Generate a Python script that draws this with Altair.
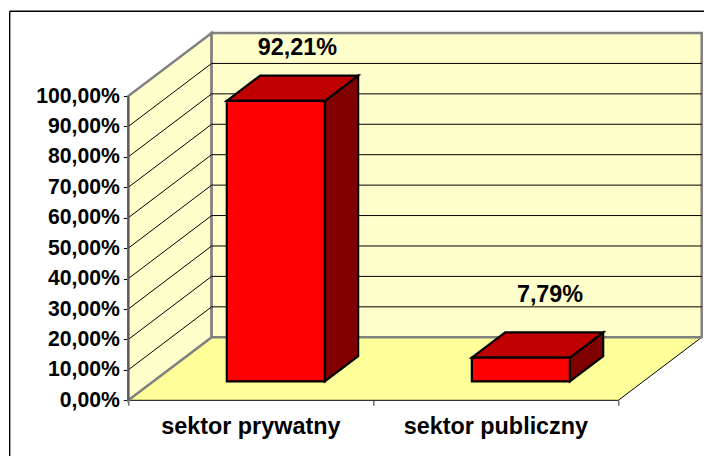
import altair as alt
import pandas as pd

categories = ["sektor prywatny", "sektor publiczny"]
values = [92.21, 7.79]
value_labels = ["92,21%", "7,79%"]
ticks = [0, 10, 20, 30, 40, 50, 60, 70, 80, 90, 100]
tick_labels = ["0,00%", "10,00%", "20,00%", "30,00%", "40,00%", "50,00%",
               "60,00%", "70,00%", "80,00%", "90,00%", "100,00%"]

# oblique projection: one unit of depth moves this far in axis units
DX = 0.34
DY = 20.72
D0, D1 = 0.30, 0.70   # bar extent in depth
W0, W1 = 0.30, 0.70   # bar extent inside its category slot
N = len(categories)


def px(c, d):
    return c + d * DX


def py(v, d):
    return v + d * DY


xs = alt.Scale(domain=[0, N + DX], nice=False, zero=False)
ys = alt.Scale(domain=[0, 100 + DY], nice=False, zero=False)
label_expr = "{" + ",".join(f"{t}:'{s}'" for t, s in zip(ticks, tick_labels)) + "}[datum.value]"
xaxis = alt.Axis(values=list(range(N + 1)), labels=False, domain=False, grid=False,
                 tickColor="#6E6E6E", tickSize=5, tickWidth=1.5, title=None)
yaxis = alt.Axis(values=ticks, domain=False, grid=False, tickColor="#000000", tickSize=5,
                 tickWidth=1, labelPadding=4, labelExpr=label_expr, title=None,
                 labelFont="Liberation Sans", labelFontWeight="bold", labelFontSize=21.2,
                 labelColor="#000000")
X = lambda f="x": alt.X(f, type="quantitative", scale=xs, axis=xaxis)
Y = lambda f="y": alt.Y(f, type="quantitative", scale=ys, axis=yaxis)

WALL = "#FFFFCC"
FLOOR = "#FFFF99"
EDGE = "#808080"

floor = alt.Chart(pd.DataFrame({
    "y": [0, DY], "x": [0, DX], "x2": [N, N + DX]
})).mark_area(orient="horizontal", fill=FLOOR, stroke="#000000", strokeWidth=1).encode(
    y=Y(), x=X(), x2="x2")

left = alt.Chart(pd.DataFrame({
    "x": [0, DX], "y": [0, DY], "y2": [100, 100 + DY]
})).mark_area(orient="vertical", fill=WALL, stroke=EDGE, strokeWidth=2.5).encode(
    x=X(), y=Y(), y2="y2")

back = alt.Chart(pd.DataFrame({
    "x": [DX, N + DX], "y": [DY, DY], "y2": [100 + DY, 100 + DY]
})).mark_area(orient="vertical", fill=WALL, stroke=EDGE, strokeWidth=2.5).encode(
    x=X(), y=Y(), y2="y2")

inner = [t for t in ticks if 0 < t < 100]
grid_df = pd.DataFrame(
    [{"x": 0, "x2": DX, "y": t, "y2": t + DY} for t in inner]
    + [{"x": DX, "x2": N + DX, "y": t + DY, "y2": t + DY} for t in inner])
grid = alt.Chart(grid_df).mark_rule(color="#000000", strokeWidth=1).encode(
    x=X(), x2="x2", y=Y(), y2="y2")

front_axis = alt.Chart(pd.DataFrame({"x": [0], "y": [0], "y2": [100]})).mark_rule(
    color="#5A5A5A", strokeWidth=2).encode(x=X(), y=Y(), y2="y2")

front_rows, top_rows, side_rows = [], [], []
for i, v in enumerate(values):
    front_rows.append({"x": px(i + W0, D0), "x2": px(i + W1, D0),
                       "y": py(0, D0), "y2": py(v, D0)})
    for d in (D0, D1):
        top_rows.append({"k": i, "y": py(v, d), "x": px(i + W0, d), "x2": px(i + W1, d)})
        side_rows.append({"k": i, "x": px(i + W1, d), "y": py(0, d), "y2": py(v, d)})

STROKE = dict(stroke="#000000", strokeWidth=2.2, strokeJoin="miter")
side = alt.Chart(pd.DataFrame(side_rows)).mark_area(
    orient="vertical", fill="#800000", **STROKE).encode(
    x=X(), y=Y(), y2="y2", detail="k:N")
top = alt.Chart(pd.DataFrame(top_rows)).mark_area(
    orient="horizontal", fill="#C00000", **STROKE).encode(
    y=Y(), x=X(), x2="x2", detail="k:N")
front = alt.Chart(pd.DataFrame(front_rows)).mark_rect(
    fill="#FF0000", **STROKE).encode(x=X(), x2="x2", y=Y(), y2="y2")

TEXT = dict(font="Liberation Sans", fontWeight="bold", color="#000000", baseline="middle")

cat_text = alt.Chart(pd.DataFrame({
    "x": [i + 0.5 for i in range(N)], "y": [0] * N, "t": categories
})).mark_text(fontSize=23.4, dy=27, **TEXT).encode(x=X(), y=Y(), text="t:N")

nudges = [(0, -28), (0, -37)]
label_layers = []
for i, (v, s) in enumerate(zip(values, value_labels)):
    dx, dy = nudges[i]
    label_layers.append(
        alt.Chart(pd.DataFrame({"x": [px(i + 0.5, 0.56 if i == 0 else 0.65)],
                                "y": [py(v, D1)], "t": [s]}))
        .mark_text(fontSize=23.4, dx=dx, dy=dy, **TEXT)
        .encode(x=X(), y=Y(), text="t:N"))

frame_top = alt.Chart(pd.DataFrame({"a": [0]})).mark_rule(color="#000000", strokeWidth=1.4).encode(
    x=alt.value(-118.6), x2=alt.value(584), y=alt.value(-21.7))
frame_left = alt.Chart(pd.DataFrame({"a": [0]})).mark_rule(color="#000000", strokeWidth=1.4).encode(
    x=alt.value(-118.6), y=alt.value(-21.7), y2=alt.value(431))

chart = alt.layer(
    floor, left, back, grid, front_axis,
    side, top, front, cat_text, *label_layers, frame_top, frame_left
).properties(
    width=573.4, height=367.3,
    autosize=alt.AutoSizeParams(type="none"),
    padding={"left": 120.3, "top": 25, "right": 2.3, "bottom": 55.5},
    background="white",
).configure_view(stroke=None)

chart.save("out.html", embed_options={"renderer": "svg", "actions": False})
